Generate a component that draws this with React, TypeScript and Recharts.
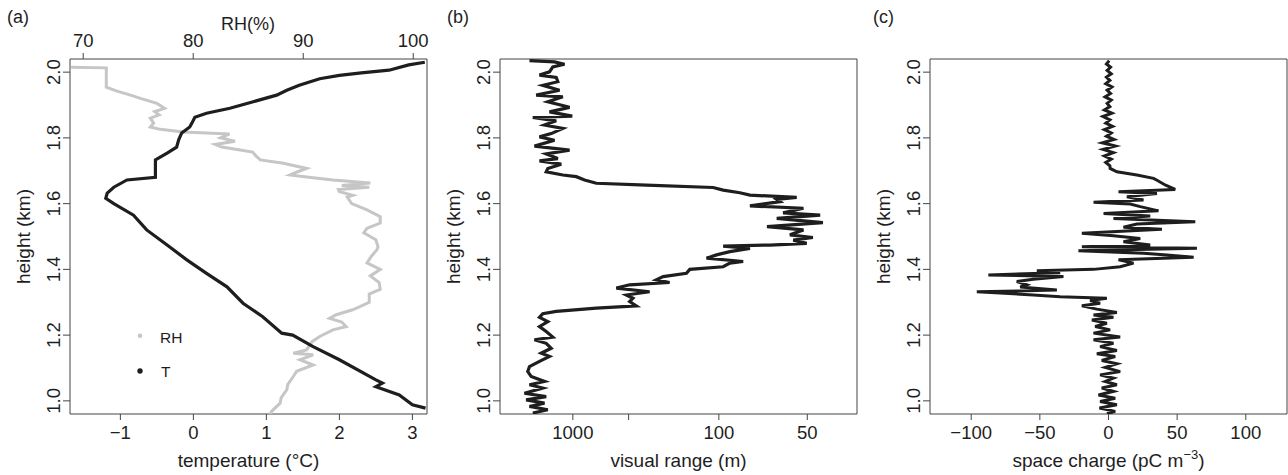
import React from "react";
import { LineChart, Line, XAxis, YAxis, ReferenceArea, Legend } from "recharts";

const FONT = "'Liberation Sans', Arial, Helvetica, sans-serif";
const INK = "#1e1e1e";
const AXIS = "#444444";
const RH_GRAY = "#c6c6c6";

// shared height axis (km)
const heightTicks = [1.0, 1.2, 1.4, 1.6, 1.8, 2.0];
const HEIGHT_DOMAIN = [0.96, 2.04];

// (a) temperature profile
const tempHeight = [
  2.03, 2.022, 2.006, 1.998, 1.99, 1.98, 1.96, 1.945, 1.93, 1.91, 1.89, 1.875, 1.863, 1.845,
  1.833, 1.815, 1.795, 1.772, 1.754, 1.733, 1.71, 1.68, 1.672, 1.65, 1.632, 1.616, 1.6, 1.565,
  1.52, 1.474, 1.429, 1.388, 1.347, 1.297, 1.256, 1.206, 1.2, 1.165, 1.125, 1.064, 1.054, 1.043,
  1.018, 0.988, 0.978,
];
const tempValue = [
  3.17, 2.95, 2.68, 2.3, 2.0, 1.73, 1.45, 1.28, 1.14, 0.82, 0.5, 0.18, 0.02, -0.02,
  -0.05, -0.16, -0.2, -0.23, -0.36, -0.52, -0.52, -0.52, -0.91, -1.09, -1.18, -1.2, -1.09, -0.82,
  -0.64, -0.36, -0.09, 0.18, 0.46, 0.68, 0.95, 1.21, 1.36, 1.64, 2.0, 2.5, 2.59, 2.5,
  2.82, 3.0, 3.18,
];

// (a) relative humidity profile
const rhHeight = [
  2.015, 2.013, 1.954, 1.943, 1.93, 1.92, 1.905, 1.89, 1.88, 1.87, 1.86, 1.845, 1.833, 1.826,
  1.818, 1.812, 1.8, 1.79, 1.78, 1.772, 1.765, 1.757, 1.745, 1.733, 1.723, 1.707, 1.697, 1.687,
  1.68, 1.672, 1.663, 1.655, 1.65, 1.643, 1.636, 1.625, 1.62, 1.6, 1.581, 1.56, 1.541, 1.525,
  1.511, 1.49, 1.468, 1.46, 1.44, 1.42, 1.4, 1.38, 1.36, 1.339, 1.325, 1.3, 1.277, 1.262,
  1.251, 1.24, 1.226, 1.216, 1.196, 1.18, 1.165, 1.155, 1.145, 1.14, 1.125, 1.109, 1.09, 1.074,
  1.05, 1.033, 1.01, 0.993, 0.967, 0.958,
];
const rhValue = [
  68.9, 72.1, 72.1, 73.0, 74.3, 75.2, 76.7, 77.4, 76.5, 76.9, 76.1, 76.4, 76.1, 77.0,
  79.1, 83.3, 82.5, 83.8, 82.0, 82.6, 84.0, 85.4, 85.7, 86.1, 88.2, 90.3, 89.5, 88.8,
  90.5, 92.7, 96.1, 93.5, 96.0, 93.2, 93.3, 94.5, 94.0, 94.4, 95.8, 97.0, 97.0, 95.8,
  95.5, 96.6, 96.8, 96.7, 96.2, 95.8, 97.0, 96.1, 96.9, 97.0, 96.0, 96.0, 94.5, 93.0,
  92.4, 93.5, 93.9, 92.7, 91.5, 90.8, 90.5, 90.3, 89.1, 90.9, 89.7, 90.9, 89.4, 89.1,
  88.6, 88.5, 88.0, 87.9, 87.1, 87.0,
];
const tempTicks = [-1, 0, 1, 2, 3];
const rhTicks = [70, 80, 90, 100];

// (b) visual range (m)
const visHeight = [
  2.035, 2.031, 2.024, 2.016, 2.001, 1.991, 1.984, 1.971, 1.96, 1.945, 1.93, 1.925, 1.91, 1.893,
  1.879, 1.866, 1.862, 1.852, 1.839, 1.829, 1.813, 1.803, 1.793, 1.775, 1.763, 1.751, 1.737, 1.73,
  1.72, 1.707, 1.697, 1.687, 1.682, 1.672, 1.662, 1.656, 1.649, 1.641, 1.633, 1.626, 1.619, 1.613,
  1.606, 1.593, 1.586, 1.572, 1.565, 1.555, 1.542, 1.53, 1.52, 1.505, 1.497, 1.489, 1.479, 1.474,
  1.471, 1.464, 1.454, 1.444, 1.434, 1.424, 1.419, 1.408, 1.4, 1.388, 1.378, 1.368, 1.36, 1.353,
  1.343, 1.332, 1.322, 1.312, 1.302, 1.289, 1.282, 1.272, 1.265, 1.254, 1.241, 1.226, 1.211, 1.194,
  1.186, 1.175, 1.16, 1.145, 1.135, 1.12, 1.104, 1.089, 1.074, 1.059, 1.049, 1.039, 1.023, 1.013,
  1.003, 0.993, 0.983, 0.973, 0.963,
];
const visRange = [
  7830, 1885, 1300, 2024, 2336, 3911, 1761, 1655, 3250, 1552, 4796, 1379, 2528, 1106,
  2336, 1018, 6056, 1761, 2973, 1379, 2167, 3911, 1885, 5367, 1106, 2730, 1655, 3911,
  1459, 2528, 2730, 1379, 906, 726, 551, 229, 105.6, 96.1, 82.9, 76.2, 53.7, 61.9,
  60.4, 76.2, 51.3, 59.1, 46.0, 61.9, 45.2, 66.6, 51.3, 56.3, 48.2, 55.0, 50.2, 65.1,
  96.1, 76.2, 90.4, 102.2, 112.6, 80.6, 90.4, 96.1, 134, 139, 183, 200, 169, 295,
  370, 219, 311, 280, 295, 266, 551, 1761, 3250, 3911, 2528, 3911, 2730, 2024,
  5367, 2730, 2167, 3547, 2336, 3911, 7830, 9070, 6830, 2973, 7830, 3250, 12480, 2730,
  10520, 2973, 7830, 2528, 6056,
];
const visTicks = [1000, 300, 100, 50];
const visTickLabels = ["1000", "", "100", "50"];

// (c) space charge (pC m^-3)
const chargeHeight = [
  2.035, 2.025, 2.015, 2.005, 1.995, 1.985, 1.975, 1.965, 1.955, 1.945, 1.935, 1.925, 1.915, 1.905,
  1.895, 1.885, 1.875, 1.865, 1.855, 1.845, 1.835, 1.825, 1.815, 1.805, 1.795, 1.785, 1.775, 1.765,
  1.755, 1.745, 1.735, 1.725, 1.715, 1.707,
  1.697, 1.687, 1.677, 1.672, 1.656, 1.643, 1.636, 1.631, 1.621, 1.611, 1.604, 1.599, 1.591, 1.578,
  1.57, 1.562, 1.555, 1.545, 1.538, 1.528, 1.522, 1.51, 1.502, 1.494, 1.484, 1.474, 1.469, 1.464,
  1.457, 1.449, 1.444, 1.437, 1.429, 1.419, 1.408, 1.4, 1.396, 1.39, 1.383, 1.378, 1.37, 1.363,
  1.353, 1.346, 1.337, 1.332, 1.322, 1.317, 1.312, 1.305, 1.297, 1.289, 1.279, 1.269,
  1.261, 1.254, 1.246, 1.236, 1.226, 1.216, 1.206, 1.194, 1.186, 1.175, 1.165, 1.153, 1.143, 1.135,
  1.123, 1.113, 1.102, 1.089, 1.079, 1.069, 1.059, 1.049, 1.039, 1.029, 1.018, 1.008, 0.998, 0.988,
  0.978, 0.968, 0.961,
];
const chargeValue = [
  0.5, -1.5, 1.5, -1, 2, -1.5, 1, -2, 2.5, -1, 1.5, -2.5, 2, -1,
  1, -3, 2.5, -4, 1, -2, 3, -3, 2, -1.5, 4, -4.5, 5, -4,
  3.5, -3, 2, -2, 1, 1.2,
  6.1, 20.7, 32.8, 35, 41.6, 48.6, 7.3, 35.3, 13.4, 25.5, -10.9, 15.8, 23.1, 36.4,
  -3.6, 30.4, 3.6, 63.2, 20.7, 10.9, 38.9, -19.4, 3.6, 23.1, 10.9, 30.4, -19.4, 64.4,
  -21.9, 25.5, 42.6, 62.0, 7.3, 18.2, 8.5, -10.9, -52.2, -35.2, -87.5, -32.8, -54.7, -66.8,
  -59.5, -64.3, -37.6, -95.9, -54.7, -35.2, -1.2, -13.4, -6.1, -19.4, -8.5, 6.1,
  -10.9, 3.6, -12.1, -1.2, -9.7, 1.2, -10.9, 8.5, -10.9, 3.6, -6.1, 6.1, -8.5, 4.9,
  -4.9, 6.1, -2.4, 8.5, -6.1, 3.6, -2.4, 6.1, -4.9, 3.6, -7.3, 4.9, -6.1, 6.1,
  -6.6, 4.9, -1.2,
];
const chargeTicks = [-100, -50, 0, 50, 100];

const tempRows = tempHeight.map((h, i) => ({ h, t: tempValue[i] }));
const rhRows = rhHeight.map((h, i) => ({ h, rh: rhValue[i] }));
// visual range axis is drawn as 1/sqrt(V), largest range on the left
const visRows = visHeight.map((h, i) => ({ h, x: 1 / Math.sqrt(visRange[i]) }));
const chargeRows = chargeHeight.map((h, i) => ({ h, q: chargeValue[i] }));

const signed = (v: number) => (v < 0 ? `\u2212${Math.abs(v)}` : `${v}`);

const textStyle = { fontFamily: FONT, fill: INK };

function YTick(props: any) {
  const { y, payload } = props;
  return (
    <text x={60} y={y} transform={`rotate(-90 60 ${y})`} textAnchor="middle" fontSize={18.5} {...textStyle}>
      {Number(payload.value).toFixed(1)}
    </text>
  );
}

const bottomTick = (fmt: (v: number) => string) => (props: any) => (
  <text x={props.x} y={439} textAnchor="middle" fontSize={18.5} {...textStyle}>
    {fmt(props.payload.value)}
  </text>
);

const topTick = (props: any) => (
  <text x={props.x} y={46.7} textAnchor="middle" fontSize={18.5} {...textStyle}>
    {props.payload.value}
  </text>
);

const visFmt = (x: number) => {
  const v = Math.round(1 / (x * x));
  const i = visTicks.indexOf(v);
  return i >= 0 ? visTickLabels[i] : "";
};

function SvgTitle({ tx, ty, body, fs }: any) {
  return (
    <text x={tx} y={ty} textAnchor="middle" fontSize={fs ?? 19} {...textStyle}>
      {body}
    </text>
  );
}

// panel letter plus the rotated height title, hung on the y axis label
function SideTitles({ letter, lx }: any) {
  return (
    <g>
      <text x={lx} y={23} fontSize={18} {...textStyle}>
        {letter}
      </text>
      <text x={30} y={236.5} transform="rotate(-90 30 236.5)" textAnchor="middle" fontSize={19} {...textStyle}>
        height (km)
      </text>
    </g>
  );
}

function LegendBox() {
  return (
    <svg width={60} height={62} style={{ display: "block" }}>
      <circle cx={10} cy={10.7} r={2.3} fill={RH_GRAY} />
      <text x={30} y={18.3} fontSize={15.5} {...textStyle}>
        RH
      </text>
      <circle cx={10} cy={46} r={2.7} fill={INK} />
      <text x={31} y={51.7} fontSize={15.5} {...textStyle}>
        T
      </text>
    </svg>
  );
}

const W = 430;
const H = 475;
const tickLine = { stroke: AXIS, strokeWidth: 1 };

export default function App() {
  const tempDomain = [-1.69, 3.2];
  const rhDomain = [68.8, 101.25];
  const visDomain = [-0.0025, 0.1647];
  const chargeDomain = [-130, 130];

  const yAxis = (letter: string, lx: number) => (
    <YAxis
      type="number"
      dataKey="h"
      domain={HEIGHT_DOMAIN}
      ticks={heightTicks}
      allowDataOverflow
      interval={0}
      width={60}
      axisLine={false}
      tickLine={tickLine}
      tickSize={7}
      tick={YTick}
      label={<SideTitles letter={letter} lx={lx} />}
    />
  );

  const box = (x: number[], xAxisId?: string) => (
    <ReferenceArea
      xAxisId={xAxisId}
      x1={x[0]}
      x2={x[1]}
      y1={HEIGHT_DOMAIN[0]}
      y2={HEIGHT_DOMAIN[1]}
      fill="none"
      stroke={AXIS}
      strokeWidth={1}
      ifOverflow="visible"
    />
  );

  return (
    <div style={{ position: "absolute", left: 0, top: 0, width: 1288, height: 475, background: "#fff", overflow: "hidden" }}>
      {/* (a) temperature and RH */}
      <div style={{ position: "absolute", left: 0, top: 0 }}>
        <LineChart width={W} height={H} margin={{ top: 9, right: 3, bottom: 11, left: 10 }}>
          <XAxis
            xAxisId="t"
            type="number"
            dataKey="t"
            domain={tempDomain}
            ticks={tempTicks}
            allowDataOverflow
            interval={0}
            height={50}
            axisLine={false}
            tickLine={tickLine}
            tickSize={6}
            tick={bottomTick(signed)}
            label={<SvgTitle tx={248.5} ty={467} body="temperature (°C)" />}
          />
          <XAxis
            xAxisId="rh"
            orientation="top"
            type="number"
            dataKey="rh"
            domain={rhDomain}
            ticks={rhTicks}
            allowDataOverflow
            interval={0}
            height={50}
            axisLine={false}
            tickLine={tickLine}
            tickSize={6}
            tick={topTick}
            label={<SvgTitle tx={248} ty={30} fs={18} body="RH(%)" />}
          />
          {yAxis("(a)", 7)}
          {box(tempDomain, "t")}
          <Line
            xAxisId="rh"
            data={rhRows}
            dataKey="h"
            name="RH"
            type="linear"
            stroke={RH_GRAY}
            strokeWidth={3}
            dot={false}
            isAnimationActive={false}
          />
          <Line
            xAxisId="t"
            data={tempRows}
            dataKey="h"
            name="T"
            type="linear"
            stroke={INK}
            strokeWidth={3.2}
            dot={false}
            isAnimationActive={false}
          />
          <Legend
            layout="vertical"
            align="center"
            verticalAlign="middle"
            content={<LegendBox />}
            wrapperStyle={{ left: 130, top: 325, width: 60, height: 62 }}
          />
        </LineChart>
      </div>

      {/* (b) visual range */}
      <div style={{ position: "absolute", left: 430, top: 0 }}>
        <LineChart width={W} height={H} margin={{ top: 59, right: 3, bottom: 11, left: 10 }}>
          <XAxis
            type="number"
            dataKey="x"
            domain={visDomain}
            ticks={visTicks.map((v) => 1 / Math.sqrt(v))}
            allowDataOverflow
            interval={0}
            height={50}
            axisLine={false}
            tickLine={tickLine}
            tickSize={6}
            tick={bottomTick(visFmt)}
            label={<SvgTitle tx={248.5} ty={467} body="visual range (m)" />}
          />
          {yAxis("(b)", 17)}
          {box(visDomain)}
          <Line
            data={visRows}
            dataKey="h"
            type="linear"
            stroke={INK}
            strokeWidth={3.2}
            dot={false}
            isAnimationActive={false}
          />
        </LineChart>
      </div>

      {/* (c) space charge */}
      <div style={{ position: "absolute", left: 860, top: 0 }}>
        <LineChart width={W} height={H} margin={{ top: 59, right: 3, bottom: 11, left: 10 }}>
          <XAxis
            type="number"
            dataKey="q"
            domain={chargeDomain}
            ticks={chargeTicks}
            allowDataOverflow
            interval={0}
            height={50}
            axisLine={false}
            tickLine={tickLine}
            tickSize={6}
            tick={bottomTick(signed)}
            label={
              <SvgTitle
                tx={248.5}
                ty={467}
                body={
                  <>
                    space charge (pC m
                    <tspan dy={-8} fontSize={13}>
                      {"\u22123"}
                    </tspan>
                    <tspan dy={8}>)</tspan>
                  </>
                }
              />
            }
          />
          {yAxis("(c)", 13)}
          {box(chargeDomain)}
          <Line
            data={chargeRows}
            dataKey="h"
            type="linear"
            stroke={INK}
            strokeWidth={3}
            dot={false}
            isAnimationActive={false}
          />
        </LineChart>
      </div>
    </div>
  );
}
